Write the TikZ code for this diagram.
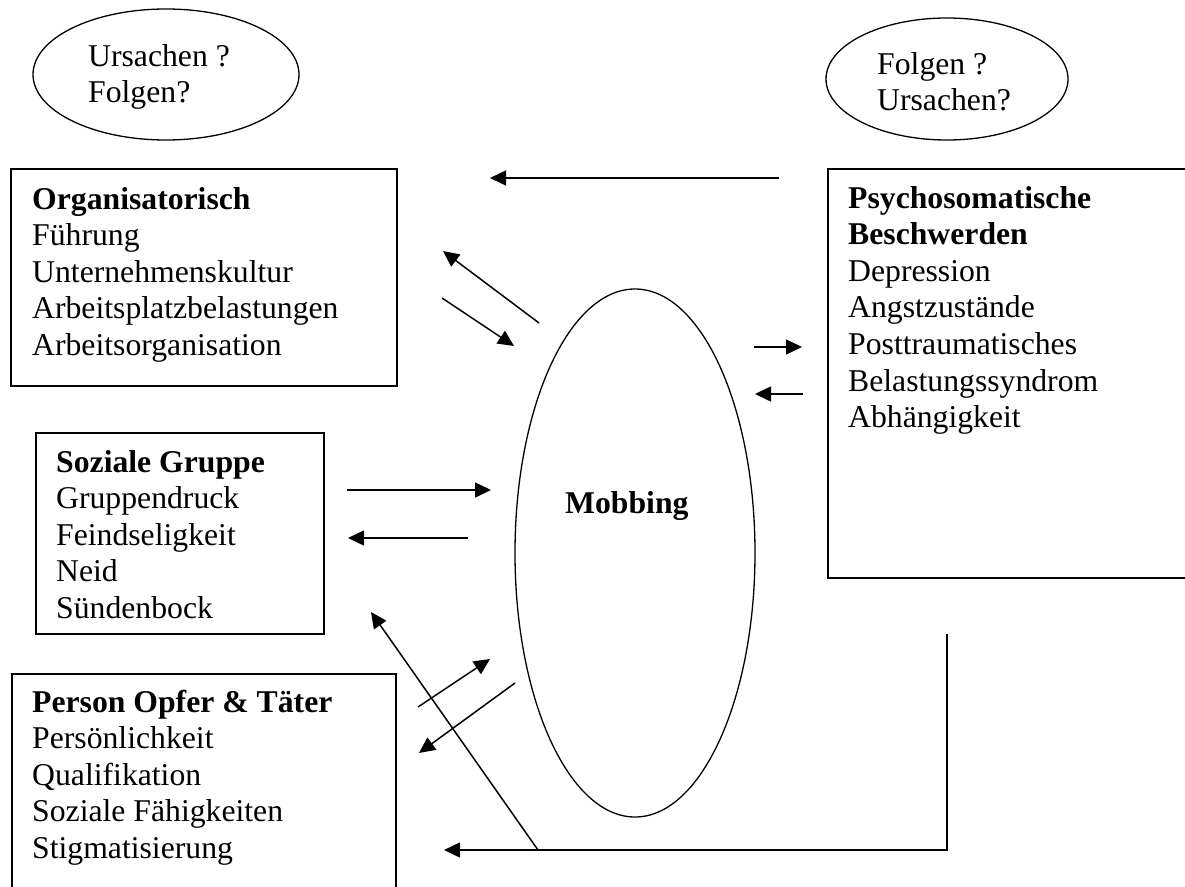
\documentclass[tikz,border=0pt]{standalone}
\usepackage{fontspec}
\setmainfont{Liberation Serif}
\usetikzlibrary{shapes.geometric,arrows.meta}
\tikzset{
  box/.style={draw, line width=1.5pt, inner sep=0pt, anchor=north west},
  oval/.style={ellipse, draw, line width=1.3pt, inner sep=0pt},
  txt/.style={anchor=base west, inner sep=0pt, font=\fontsize{31.7}{36.6}\selectfont},
  conn/.style={line width=1.5pt, -{Triangle[length=16pt,width=15pt]}}
}
\newcommand{\lines}[1]{\begin{tabular}[t]{@{}l@{}}#1\end{tabular}}
\begin{document}
\begin{tikzpicture}[x=1pt,y=-1pt]
\useasboundingbox (0,0) rectangle (1185,886);
\clip (0,0) rectangle (1185,886);
\fill[white] (0,0) rectangle (1185,886);

% ovals at top
\node[oval, minimum width=266pt, minimum height=131pt] (qleft) at (166,74.5) {};
\node[txt] (qlefttext) at (88,66) {\lines{Ursachen ?\\Folgen?}};
\node[oval, minimum width=242pt, minimum height=122pt] (qright) at (947,79) {};
\node[txt] (qrighttext) at (877,74) {\lines{Folgen ?\\Ursachen?}};

% boxes
\node[box, minimum width=386pt, minimum height=217pt] (org) at (10,168) {};
\node[txt] (orgtext) at (32,209) {\lines{\textbf{Organisatorisch}\\Führung\\Unternehmenskultur\\Arbeitsplatzbelastungen\\Arbeitsorganisation}};

\node[box, minimum width=373pt, minimum height=409pt] (psy) at (827,168) {};
\node[txt] (psytext) at (848,208) {\lines{\textbf{Psychosomatische}\\\textbf{Beschwerden}\\Depression\\Angstzustände\\Posttraumatisches\\Belastungssyndrom\\Abhängigkeit}};

\node[box, minimum width=288pt, minimum height=201pt] (soz) at (35,432) {};
\node[txt] (soztext) at (56,472) {\lines{\textbf{Soziale Gruppe}\\Gruppendruck\\Feindseligkeit\\Neid\\Sündenbock}};

\node[box, minimum width=384pt, minimum height=240pt] (pers) at (11,673) {};
\node[txt] (perstext) at (32,712) {\lines{\textbf{Person Opfer \& Täter}\\Persönlichkeit\\Qualifikation\\Soziale Fähigkeiten\\Stigmatisierung}};

% central oval
\node[oval, minimum width=240pt, minimum height=528pt] (mob) at (635,553) {};
\node[txt] (mobtext) at (565,513) {\textbf{Mobbing}};

% connector end points
\coordinate (t1) at (779,178);  \coordinate (t2) at (490,178);
\coordinate (a1s) at (539,323); \coordinate (a1e) at (443,251);
\coordinate (a2s) at (442,298); \coordinate (a2e) at (514,346);
\coordinate (a3s) at (754,347); \coordinate (a3e) at (802,347);
\coordinate (a4s) at (803,394); \coordinate (a4e) at (755,394);
\coordinate (a5s) at (347,490); \coordinate (a5e) at (491,490);
\coordinate (a6s) at (468,538); \coordinate (a6e) at (348,538);
\coordinate (a7s) at (418,707); \coordinate (a7e) at (490,659);
\coordinate (a8s) at (515,683); \coordinate (a8e) at (419,753);
\coordinate (fbs) at (947,634); \coordinate (fbe) at (444,850);
\coordinate (a9s) at (538,850); \coordinate (a9e) at (371,612);

\draw[conn] (t1) -- (t2);
\draw[conn] (a1s) -- (a1e);
\draw[conn] (a2s) -- (a2e);
\draw[conn] (a3s) -- (a3e);
\draw[conn] (a4s) -- (a4e);
\draw[conn] (a5s) -- (a5e);
\draw[conn] (a6s) -- (a6e);
\draw[conn] (a7s) -- (a7e);
\draw[conn] (a8s) -- (a8e);
\draw[conn] (fbs) |- (fbe);
\draw[conn] (a9s) -- (a9e);
\end{tikzpicture}
\end{document}
